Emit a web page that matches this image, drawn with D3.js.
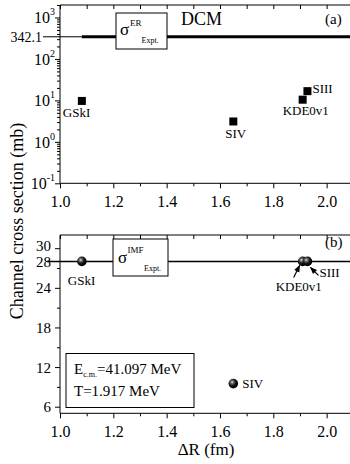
<!DOCTYPE html>
<html><head><meta charset="utf-8">
<script src="https://cdn.jsdelivr.net/npm/d3@7"></script>
<style>
html,body{margin:0;padding:0;background:#fff;}
svg{display:block;font-family:"Liberation Serif","Times New Roman",serif;}
</style></head>
<body>
<svg id="c" width="350" height="464"></svg>
<script>
// ---- data ----
const models = ["GSkI", "SIV", "KDE0v1", "SIII"];
const deltaR = [1.082, 1.65, 1.91, 1.928];
const sigmaER = [9.7, 3.1, 10.4, 16.7];
const sigmaIMF = [28, 9.5, 28, 28];
const erExpt = 342.1;
const imfExpt = 28;
const xTicks = [1.0, 1.2, 1.4, 1.6, 1.8, 2.0];
const xMinor = [1.1, 1.3, 1.5, 1.7, 1.9];
const yaExp = [-1, 0, 1, 2, 3];
const ybTicks = [6, 12, 18, 24, 30];
const ybMinor = [9, 15, 21, 27];
const ecm = "41.097";
const temp = "1.917";

const svg = d3.select("#c");
const defs = svg.append("defs");
const g = defs.append("radialGradient").attr("id","ball").attr("cx","38%").attr("cy","35%").attr("r","65%");
g.append("stop").attr("offset","0%").attr("stop-color","#e8e8e8");
g.append("stop").attr("offset","25%").attr("stop-color","#666");
g.append("stop").attr("offset","60%").attr("stop-color","#111");
g.append("stop").attr("offset","100%").attr("stop-color","#000");

const L = 60, R = 353.3;
const x = d3.scaleLinear().domain([1.0, 2.1]).range([L, R]);
const ya = d3.scaleLog().domain([0.1, 2000]).range([183.3, 5]);
const yb = d3.scaleLinear().domain([5, 32]).range([413.3, 235]);

function xAxes(top, bottom) {
  const gb = svg.append("g").attr("transform", `translate(0,${bottom})`)
    .call(d3.axisBottom(x).tickValues(xTicks).tickSize(5).tickFormat(d3.format(".1f")));
  gb.select(".domain").attr("d", `M${L},0H${R}`);
  gb.selectAll("text").attr("font-family","Liberation Serif").attr("font-size",16).attr("fill","#000").attr("dy","0").attr("y",24);
  const gm = svg.append("g").attr("transform", `translate(0,${bottom})`)
    .call(d3.axisBottom(x).tickValues(xMinor).tickSize(3).tickFormat(""));
  gm.select(".domain").remove();
  const gt = svg.append("g").attr("transform", `translate(0,${top})`)
    .call(d3.axisBottom(x).tickValues(xTicks.concat(xMinor)).tickSize(4).tickFormat(""));
  gt.select(".domain").attr("d", `M${L},0H${R}`);
  svg.selectAll(".tick line").attr("stroke","#000");
  svg.selectAll(".domain").attr("stroke","#000");
}

// ---------- Panel (a) ----------
xAxes(5, 183.3);
const la = svg.append("g").attr("transform", `translate(${L},0)`)
  .call(d3.axisLeft(ya).tickValues(yaExp.map(e => Math.pow(10, e))).tickSize(5).tickFormat(""));
la.select(".domain").attr("d", `M0,5V183.3`);
const minorA = [];
for (let e = -1; e <= 3; e++) for (let m = 2; m <= 9; m++) { const v = m * Math.pow(10, e); if (v <= 2000) minorA.push(v); }
const lam = svg.append("g").attr("transform", `translate(${L},0)`)
  .call(d3.axisLeft(ya).tickValues(minorA).tickSize(3).tickFormat(""));
lam.select(".domain").remove();
yaExp.forEach(e => {
  const t = svg.append("text").attr("x", 55).attr("y", ya(Math.pow(10, e)) + 6)
    .attr("text-anchor", "end").attr("font-size", 16);
  t.append("tspan").text("10");
  t.append("tspan").attr("font-size", 10).attr("dy", -8).text(e < 0 ? "-" + Math.abs(e) : String(e));
});
svg.append("text").attr("x", 42).attr("y", ya(erExpt) + 5).attr("text-anchor","end").attr("font-size", 14).text(erExpt.toFixed(1));
svg.append("line").attr("x1", 43).attr("x2", R).attr("y1", ya(erExpt)).attr("y2", ya(erExpt)).attr("stroke","#000").attr("stroke-width",1);
svg.append("line").attr("x1", x(deltaR[0])).attr("x2", R).attr("y1", ya(erExpt)).attr("y2", ya(erExpt)).attr("stroke","#000").attr("stroke-width",3);
svg.append("rect").attr("x",116).attr("y",13).attr("width",51).attr("height",36).attr("fill","#fff").attr("stroke","#000").attr("stroke-width",1);
svg.append("text").attr("x",120).attr("y",35).attr("font-size",17).text("σ");
svg.append("text").attr("x",130).attr("y",26).attr("font-size",9).text("ER");
svg.append("text").attr("x",141.5).attr("y",43).attr("font-size",8).text("Expt.");
svg.append("text").attr("x",181).attr("y",25).attr("font-size",18).text("DCM");
svg.append("text").attr("x",325).attr("y",24).attr("font-size",15).text("(a)");

svg.append("g").selectAll("rect.pt").data(models).join("rect")
  .attr("x", (d,i) => x(deltaR[i]) - 4).attr("y", (d,i) => ya(sigmaER[i]) - 4)
  .attr("width", 8).attr("height", 8).attr("fill", "#000");
const labA = [[-19, 16, "start"], [-8, 17, "start"], [-20, 15, "start"], [5, 2, "start"]];
models.forEach((m, i) => {
  svg.append("text").attr("x", x(deltaR[i]) + labA[i][0]).attr("y", ya(sigmaER[i]) + labA[i][1])
    .attr("font-size", 13).text(m);
});

// ---------- Panel (b) ----------
xAxes(235, 413.3);
const lb = svg.append("g").attr("transform", `translate(${L},0)`)
  .call(d3.axisLeft(yb).tickValues(ybTicks).tickSize(5).tickFormat(""));
lb.select(".domain").attr("d", `M0,235V413.3`);
const lbm = svg.append("g").attr("transform", `translate(${L},0)`)
  .call(d3.axisLeft(yb).tickValues(ybMinor).tickSize(3).tickFormat(""));
lbm.select(".domain").remove();
ybTicks.concat([imfExpt]).forEach(v => {
  svg.append("text").attr("x", 51).attr("y", yb(v) + (v === 30 ? 3 : v === 28 ? 6 : 5.5)).attr("text-anchor","end").attr("font-size",15).text(v);
});
svg.selectAll(".tick line").attr("stroke","#000");
svg.selectAll(".domain").attr("stroke","#000");

svg.append("line").attr("x1", 47).attr("x2", R).attr("y1", yb(imfExpt)).attr("y2", yb(imfExpt)).attr("stroke","#000").attr("stroke-width",1.5);
svg.append("rect").attr("x",113).attr("y",239).attr("width",55).attr("height",37).attr("fill","#fff").attr("stroke","#000").attr("stroke-width",1);
svg.append("text").attr("x",118).attr("y",263).attr("font-size",17).text("σ");
svg.append("text").attr("x",127.5).attr("y",253).attr("font-size",9).text("IMF");
svg.append("text").attr("x",144).attr("y",271).attr("font-size",8).text("Expt.");
svg.append("text").attr("x",325).attr("y",247).attr("font-size",15).text("(b)");

// arrows
const arrowDefs = defs.append("marker").attr("id","ah").attr("viewBox","0 0 10 10").attr("refX",9).attr("refY",5)
  .attr("markerWidth",6).attr("markerHeight",6).attr("orient","auto-start-reverse");
arrowDefs.append("path").attr("d","M0,1L10,5L0,9z").attr("fill","#000");
const kx = x(deltaR[2]), ky = yb(sigmaIMF[2]);
const sx = x(deltaR[3]), sy = yb(sigmaIMF[3]);
svg.append("line").attr("x1", kx - 9).attr("y1", ky + 16).attr("x2", kx - 3).attr("y2", ky + 4)
  .attr("stroke","#000").attr("stroke-width",1.2).attr("marker-end","url(#ah)");
svg.append("line").attr("x1", sx + 11).attr("y1", sy + 14).attr("x2", sx + 3).attr("y2", sy + 6)
  .attr("stroke","#000").attr("stroke-width",1.2).attr("marker-end","url(#ah)");

svg.append("g").selectAll("circle").data(models).join("circle")
  .attr("cx", (d,i) => x(deltaR[i])).attr("cy", (d,i) => yb(sigmaIMF[i])).attr("r", 4.8)
  .attr("fill", "url(#ball)");
const labB = [[-14, 24], [9, 4], [-27, 30], [12, 16]];
models.forEach((m, i) => {
  svg.append("text").attr("x", x(deltaR[i]) + labB[i][0]).attr("y", yb(sigmaIMF[i]) + labB[i][1])
    .attr("font-size", 13).text(m);
});

// info box
svg.append("rect").attr("x",66).attr("y",353.5).attr("width",128).attr("height",54).attr("fill","#fff").attr("stroke","#000").attr("stroke-width",1);
const e1 = svg.append("text").attr("x",74).attr("y",373.5).attr("font-size",15);
e1.append("tspan").text("E");
e1.append("tspan").attr("font-size",8).attr("dy",3).text("c.m.");
e1.append("tspan").attr("dy",-3).text("=" + ecm + " MeV");
svg.append("text").attr("x",74).attr("y",395.5).attr("font-size",15).text("T=" + temp + " MeV");

// axis titles
svg.append("text").attr("transform","translate(23,221) rotate(-90)").attr("text-anchor","middle").attr("font-size",18).text("Channel cross section (mb)");
svg.append("text").attr("x",206).attr("y",455).attr("text-anchor","middle").attr("font-size",17).text("ΔR (fm)");
</script>
</body></html>
